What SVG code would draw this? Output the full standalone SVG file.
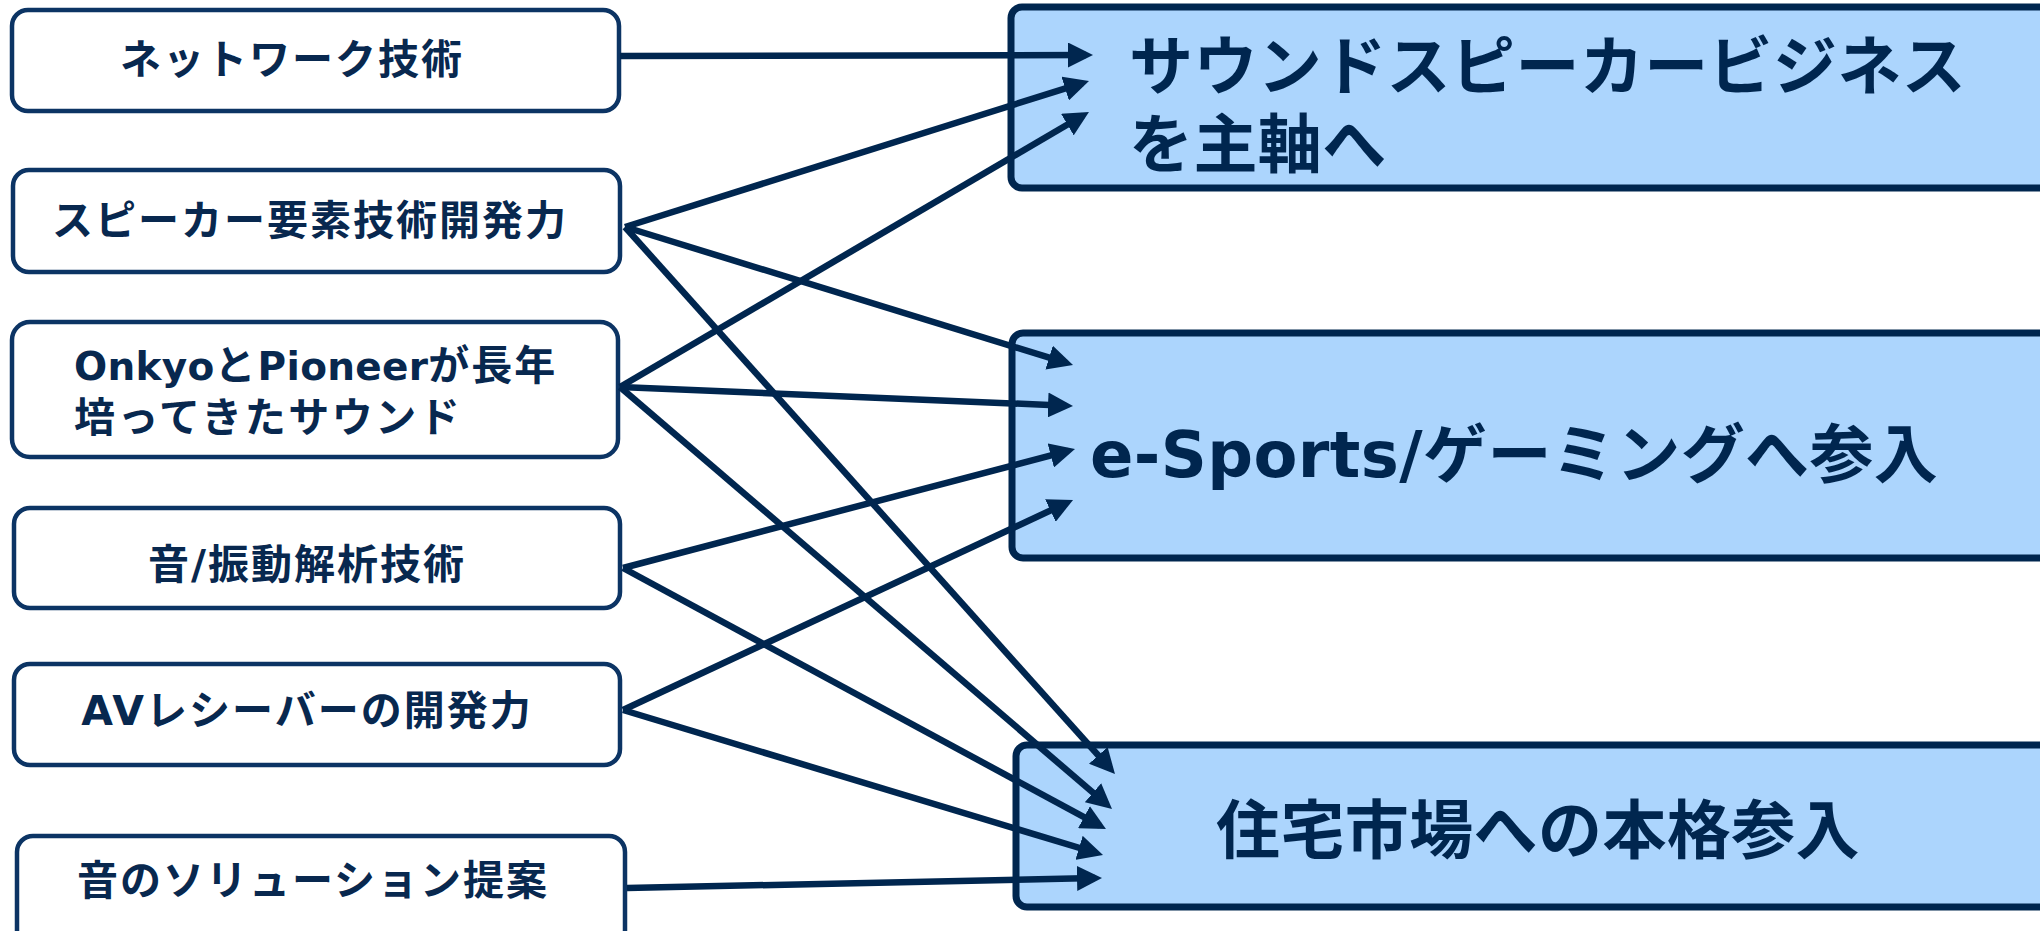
<svg xmlns="http://www.w3.org/2000/svg" width="2040" height="931" viewBox="0 0 2040 931">
<style>
.src rect{fill:#ffffff;stroke:#0c3464;stroke-width:4.5}
.dst rect{fill:#acd5fd;stroke:#00264f;stroke-width:7}
.lt{font-family:"DejaVu Sans","Noto Sans CJK JP",sans-serif;font-weight:bold;font-size:41px;fill:#08284f;letter-spacing:2px}
.lat{font-size:39px;letter-spacing:0.3px}
.rt{font-family:"DejaVu Sans","Noto Sans CJK JP",sans-serif;font-weight:bold;font-size:64px;fill:#00264f;letter-spacing:0.4px}
.cn line{stroke:#00264f;stroke-width:6.5;marker-end:url(#ah)}
</style>
<defs>
<marker id="ah" markerUnits="userSpaceOnUse" markerWidth="25" markerHeight="25" viewBox="0 0 25 25" refX="18" refY="12.5" orient="auto">
<path d="M0,0 L25,12.5 L0,25 z" fill="#00264f"/>
</marker>
</defs>
<rect width="2040" height="931" fill="#ffffff"/>
<g id="n-network" class="src"><rect x="12" y="10" width="607" height="101" rx="16"/><text class="lt" x="292" y="74" text-anchor="middle">ネットワーク技術</text></g>
<g id="n-speaker" class="src"><rect x="13" y="170" width="607" height="102" rx="16"/><text class="lt" x="310" y="235" text-anchor="middle">スピーカー要素技術開発力</text></g>
<g id="n-sound" class="src"><rect x="12" y="322" width="606" height="135" rx="18"/><text class="lt" x="74" y="380"><tspan class="lat">Onkyo</tspan>と<tspan class="lat">Pioneer</tspan>が長年</text><text class="lt" x="74" y="432" style="letter-spacing:2.5px">培ってきたサウンド</text></g>
<g id="n-analysis" class="src"><rect x="14" y="508" width="606" height="100" rx="16"/><text class="lt" x="307" y="579" text-anchor="middle">音/振動解析技術</text></g>
<g id="n-av" class="src"><rect x="14" y="664" width="606" height="101" rx="16"/><text class="lt" x="307" y="725" text-anchor="middle">AVレシーバーの開発力</text></g>
<g id="n-solution" class="src"><rect x="17" y="836" width="608" height="110" rx="16"/><text class="lt" x="313" y="895" text-anchor="middle">音のソリューション提案</text></g>
<g id="t-speaker-biz" class="dst"><rect x="1011" y="7" width="1060" height="181" rx="11"/><text class="rt" x="1129" y="89">サウンドスピーカービジネス</text><text class="rt" x="1129" y="167">を主軸へ</text></g>
<g id="t-esports" class="dst"><rect x="1012" y="333" width="1060" height="225" rx="11"/><text class="rt" x="1090" y="477">e-Sports/ゲーミングへ参入</text></g>
<g id="t-housing" class="dst"><rect x="1016" y="745" width="1060" height="162" rx="11"/><text class="rt" x="1538" y="853" text-anchor="middle">住宅市場への本格参入</text></g>
<g id="connectors" class="cn">
<line x1="620" y1="56" x2="1086" y2="55"/>
<line x1="625" y1="227" x2="1082.3" y2="83.1"/>
<line x1="620" y1="387" x2="1082.9" y2="115.5"/>
<line x1="625" y1="227" x2="1066.3" y2="362.9"/>
<line x1="620" y1="387" x2="1066" y2="405.7"/>
<line x1="623" y1="568" x2="1068.2" y2="450.8"/>
<line x1="623" y1="710" x2="1066.7" y2="502.9"/>
<line x1="625" y1="227" x2="1110.3" y2="768.8"/>
<line x1="620" y1="387" x2="1106.7" y2="804.4"/>
<line x1="623" y1="568" x2="1099.8" y2="825.7"/>
<line x1="623" y1="710" x2="1096.3" y2="853"/>
<line x1="627" y1="888" x2="1095" y2="878.1"/>
</g>
</svg>
